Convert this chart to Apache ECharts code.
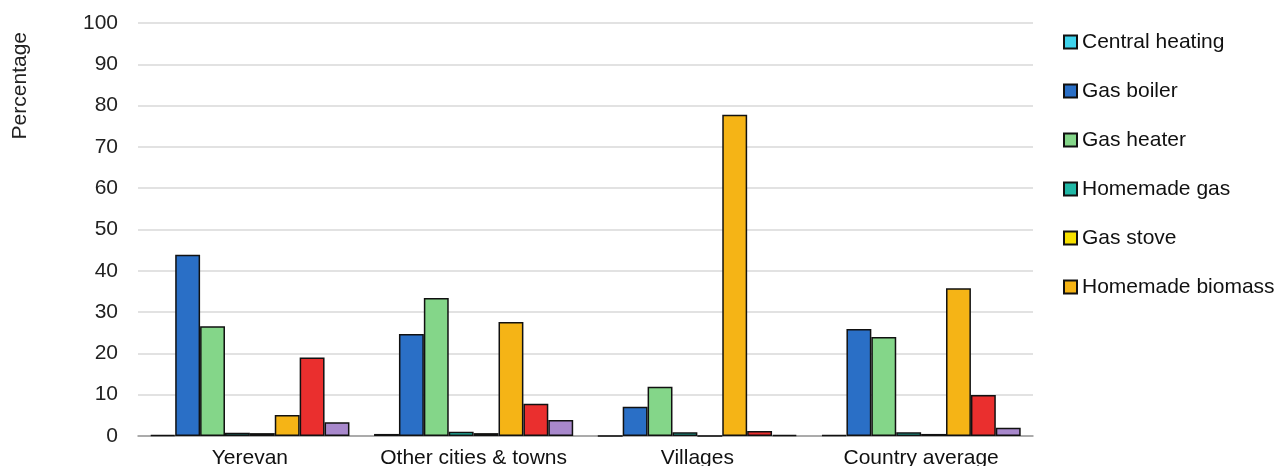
<!DOCTYPE html>
<html><head><meta charset="utf-8">
<script src="https://cdn.jsdelivr.net/npm/echarts@6/dist/echarts.min.js"></script>
<style>html,body{margin:0;padding:0;background:#fff}#c{width:1281px;height:466px}</style>
</head><body><div id="c"></div>
<script>
const categories = ['Yerevan', 'Other cities & towns', 'Villages', 'Country average'];
const seriesNames = ['Central heating', 'Gas boiler', 'Gas heater', 'Homemade gas', 'Gas stove', 'Homemade biomass', 'Electricity', 'Other'];
const legendNames = ['Central heating', 'Gas boiler', 'Gas heater', 'Homemade gas', 'Gas stove', 'Homemade biomass'];
const centralHeating = [0.2, 0.5, 0.0, 0.2];
const gasBoiler = [43.9, 24.7, 7.1, 25.9];
const gasHeater = [26.6, 33.4, 11.9, 24.0];
const homemadeGas = [0.8, 1.0, 0.9, 0.9];
const gasStove = [0.7, 0.7, 0.0, 0.5];
const homemadeBiomass = [5.1, 27.6, 77.8, 35.8];
const electricity = [19.0, 7.8, 1.2, 9.9];
const other = [3.3, 3.9, 0.3, 2.0];
const yTicks = [0, 10, 20, 30, 40, 50, 60, 70, 80, 90, 100];

const values = [centralHeating, gasBoiler, gasHeater, homemadeGas, gasStove, homemadeBiomass, electricity, other];
const colors = ['#3fd3ec', '#2a6fc6', '#84d689', '#20b7a5', '#f7e000', '#f5b416', '#ea2f2e', '#a888cc'];
const FONT = 'Liberation Sans, Arial, sans-serif';

const chart = echarts.init(document.getElementById('c'));
chart.setOption({
  animation: false,
  textStyle: { fontFamily: FONT },
  grid: { left: 138, right: 248, top: 23, bottom: 30, outerBoundsMode: 'none' },
  graphic: [{
    type: 'text', left: 10, top: 32, rotation: Math.PI / 2,
    style: { text: 'Percentage', fontSize: 21, fill: '#222', fontFamily: FONT }
  }],
  legend: {
    orient: 'vertical', left: 1058, top: 26,
    data: legendNames,
    icon: 'rect', itemWidth: 13, itemHeight: 13, itemGap: 27,
    textStyle: { fontSize: 21, color: '#111', lineHeight: 22 }
  },
  xAxis: {
    type: 'category', data: categories,
    axisLine: { lineStyle: { color: '#999', width: 1.5 } },
    axisTick: { show: false },
    axisLabel: { fontSize: 21, color: '#111', margin: 12, interval: 0, hideOverlap: false }
  },
  yAxis: {
    type: 'value', min: 0, max: 100, interval: 10,
    axisLine: { show: false }, axisTick: { show: false },
    axisLabel: { fontSize: 21, color: '#222', margin: 20,
      formatter: v => yTicks.includes(v) ? String(v) : '' },
    splitLine: { lineStyle: { color: '#d9d9d9', width: 1.5 } }
  },
  series: seriesNames.map((n, i) => ({
    name: n, type: 'bar', data: values[i],
    barGap: '0%', barCategoryGap: '11%',
    itemStyle: { color: colors[i], borderColor: '#111', borderWidth: 1.5 }
  }))
});
</script></body></html>
